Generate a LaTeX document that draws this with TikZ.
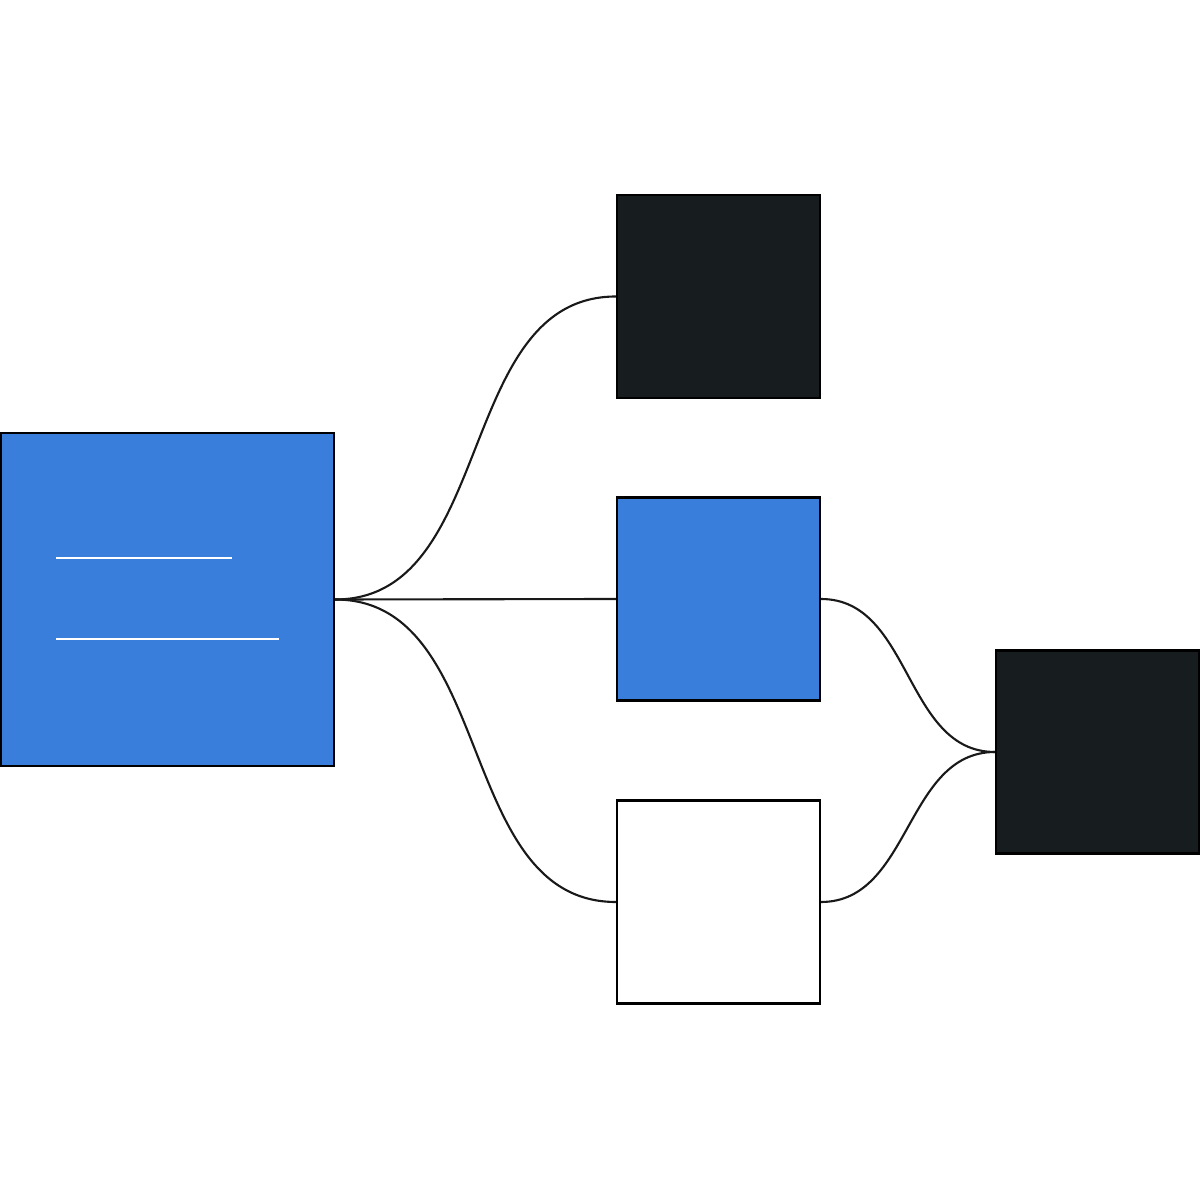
\documentclass[tikz,border=0pt]{standalone}
\usepackage{tikz}
\definecolor{boxblue}{HTML}{3A7EDC}
\definecolor{boxdark}{HTML}{171C1F}
\tikzset{
  card/.style={draw=black, line width=0.6pt, minimum size=#1, inner sep=0pt},
  link/.style={draw=black!90, line width=0.6pt},
  textline/.style={white, line width=0.7pt}
}
\begin{document}
\begin{tikzpicture}
        \useasboundingbox (0,0) rectangle (12,12);

        \node[card=3.33cm, fill=boxblue] (source) at (1.675,6.005) {};

        \node[card=2.03cm, fill=boxdark] (top) at (7.185,9.035) {};
        \node[card=2.03cm, fill=boxblue] (mid) at (7.185,6.01) {};
        \node[card=2.03cm, fill=white] (low) at (7.185,2.98) {};
        \node[card=2.03cm, fill=boxdark] (sink) at (10.975,4.48) {};

        \draw[textline] (0.56,6.42) -- (2.32,6.42);
        \draw[textline] (0.56,5.61) -- (2.79,5.61);

        \draw[link] (source.east) to[out=0, in=180] (top.west);
        \draw[link] (source.east) -- (mid.west);
        \draw[link] (source.east) to[out=0, in=180] (low.west);

        \draw[link] (mid.east) to[out=0, in=180] (sink.west);
        \draw[link] (low.east) to[out=0, in=180] (sink.west);
    \end{tikzpicture}
\end{document}
